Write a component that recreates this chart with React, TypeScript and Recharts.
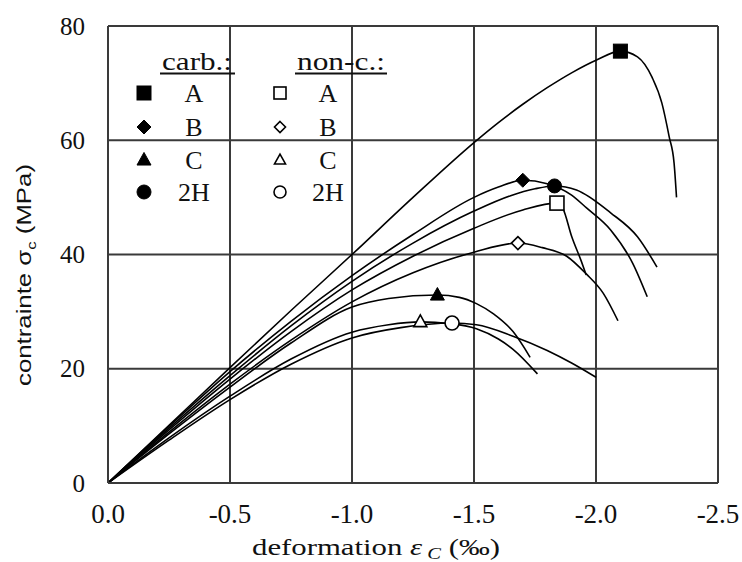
import {
  ComposedChart,
  Line,
  Scatter,
  XAxis,
  YAxis,
  CartesianGrid,
  Customized,
} from "recharts";

type Pt = [number, number];

// strain (‰) is negative in compression, axis runs 0 -> -2.5
const strainTicks = [0, -0.5, -1, -1.5, -2, -2.5];
const stressTicks = [0, 20, 40, 60, 80];

// carbonated specimens
const carbA: Pt[] = [
  [0, 0], [-0.25, 10.1], [-0.5, 20.2], [-0.75, 30.2], [-1.0, 40], [-1.25, 50],
  [-1.5, 59.6], [-1.6, 63.1], [-1.7, 66.3], [-1.8, 69.2], [-1.9, 71.8], [-2.0, 74],
  [-2.1, 75.6], [-2.17, 74.6], [-2.23, 71], [-2.27, 66.5], [-2.3, 60.6], [-2.32, 56],
  [-2.33, 50],
];
const carbB: Pt[] = [
  [0, 0], [-0.25, 9.9], [-0.5, 19.5], [-0.75, 28.3], [-1.0, 36.3], [-1.25, 43.5],
  [-1.5, 50], [-1.6, 51.8], [-1.7, 53], [-1.8, 52.4], [-1.9, 50.4], [-1.96, 48.2],
  [-2.06, 44.3], [-2.15, 38.5], [-2.21, 32.6],
];
const carbC: Pt[] = [
  [0, 0], [-0.25, 8.6], [-0.5, 16.8], [-0.75, 24.5], [-1.0, 30.8], [-1.15, 32.3],
  [-1.35, 32.9], [-1.44, 32.5], [-1.51, 31.4], [-1.58, 29.6], [-1.66, 26.5], [-1.73, 22],
];
const carb2H: Pt[] = [
  [0, 0], [-0.25, 9.6], [-0.5, 18.8], [-0.75, 27.5], [-1.0, 35.3], [-1.25, 42],
  [-1.5, 47.6], [-1.65, 50.3], [-1.75, 51.5], [-1.83, 52], [-1.92, 51.3], [-2.06, 47.3],
  [-2.17, 43.1], [-2.25, 37.8],
];

// non-carbonated specimens
const nonA: Pt[] = [
  [0, 0], [-0.25, 9.3], [-0.5, 18.2], [-0.75, 26.5], [-1.0, 33.8], [-1.25, 39.7],
  [-1.5, 44.6], [-1.7, 47.8], [-1.84, 49], [-1.865, 48], [-1.9, 43.2], [-1.94, 38.8],
  [-1.96, 36.4],
];
const nonB: Pt[] = [
  [0, 0], [-0.25, 8.9], [-0.5, 17.3], [-0.75, 25], [-1.0, 31.7], [-1.25, 36.8],
  [-1.5, 40.4], [-1.68, 42], [-1.78, 41.2], [-1.88, 39.7], [-1.96, 36.6], [-2.03, 33.2],
  [-2.09, 28.4],
];
const nonC: Pt[] = [
  [0, 0], [-0.25, 7.9], [-0.5, 15.2], [-0.75, 21.7], [-1.0, 26.4], [-1.15, 27.7],
  [-1.28, 28.2], [-1.4, 27.9], [-1.51, 27], [-1.6, 25.2], [-1.66, 23.4], [-1.76, 19.1],
];
const non2H: Pt[] = [
  [0, 0], [-0.25, 7.5], [-0.5, 14.6], [-0.75, 20.8], [-1.0, 25.4], [-1.2, 27.2],
  [-1.41, 28], [-1.51, 27.7], [-1.66, 25.7], [-1.8, 23.2], [-1.9, 21], [-2.0, 18.5],
];

type Kind = "square" | "diamond" | "triangle" | "circle";

const series: { id: string; pts: Pt[]; kind: Kind; filled: boolean; size: number }[] = [
  { id: "carbA", pts: carbA, kind: "square", filled: true, size: 14 },
  { id: "carbB", pts: carbB, kind: "diamond", filled: true, size: 14 },
  { id: "carbC", pts: carbC, kind: "triangle", filled: true, size: 14 },
  { id: "carb2H", pts: carb2H, kind: "circle", filled: true, size: 14 },
  { id: "nonA", pts: nonA, kind: "square", filled: false, size: 14 },
  { id: "nonB", pts: nonB, kind: "diamond", filled: false, size: 13 },
  { id: "nonC", pts: nonC, kind: "triangle", filled: false, size: 13 },
  { id: "non2H", pts: non2H, kind: "circle", filled: false, size: 14 },
];

const legendRows = ["A", "B", "C", "2H"];

const toRows = (pts: Pt[]) => pts.map(([x, y]) => ({ x, y }));
const peakOf = (pts: Pt[]) => {
  let best = pts[0];
  for (const p of pts) if (p[1] > best[1]) best = p;
  return [{ x: best[0], y: best[1] }];
};

const SERIF = "Liberation Serif, Times New Roman, serif";
const SANS = "Liberation Sans, Arial, sans-serif";
const INK = "#111";
const GRID = "#3a3a3a";

function Marker({ cx, cy, kind, filled, size }: { cx: number; cy: number; kind: Kind; filled: boolean; size: number }) {
  const s = size / 2;
  const style = {
    fill: filled ? "#000" : "#fff",
    stroke: "#000",
    strokeWidth: filled ? 1 : 1.6,
  };
  if (kind === "square") return <rect x={cx - s} y={cy - s} width={size} height={size} {...style} />;
  if (kind === "diamond")
    return <polygon points={`${cx},${cy - s} ${cx + s},${cy} ${cx},${cy + s} ${cx - s},${cy}`} {...style} />;
  if (kind === "triangle") {
    const h = size * 0.9;
    return (
      <polygon
        points={`${cx},${cy - h * 0.6} ${cx + s},${cy + h * 0.4} ${cx - s},${cy + h * 0.4}`}
        {...style}
      />
    );
  }
  return <circle cx={cx} cy={cy} r={s} {...style} />;
}

const XTick = ({ x, y, payload }: any) => (
  <text x={x} y={y + 40} textAnchor="middle" fontFamily={SERIF} fontSize={27} fill={INK}>
    {Number(payload.value).toFixed(1)}
  </text>
);

const YTick = ({ x, y, payload }: any) => (
  <text x={x - 23} y={y + 8.5} textAnchor="end" fontFamily={SERIF} fontSize={25} fill={INK}>
    {payload.value}
  </text>
);

function Overlay() {
  const rowY = [93, 127, 160, 192];
  const carbSeries = series.filter((s) => s.filled);
  const nonSeries = series.filter((s) => !s.filled);
  return (
    <g>
      {/* legend */}
      <text x={162} y={70} fontFamily={SERIF} fontSize={25} fill={INK} textLength={70} lengthAdjust="spacingAndGlyphs">
        carb.:
      </text>
      <line x1={160} x2={235} y1={73.5} y2={73.5} stroke={INK} strokeWidth={2} />
      <text x={297} y={70} fontFamily={SERIF} fontSize={25} fill={INK} textLength={88} lengthAdjust="spacingAndGlyphs">
        non-c.:
      </text>
      <line x1={295} x2={387} y1={73.5} y2={73.5} stroke={INK} strokeWidth={2} />
      {legendRows.map((label, i) => (
        <g key={label}>
          <Marker cx={144} cy={rowY[i]} kind={carbSeries[i].kind} filled size={carbSeries[i].size} />
          <text x={194} y={rowY[i] + 9} textAnchor="middle" fontFamily={SERIF} fontSize={26} fill={INK}>
            {label}
          </text>
          <Marker cx={280} cy={rowY[i]} kind={nonSeries[i].kind} filled={false} size={nonSeries[i].size - 2} />
          <text x={328} y={rowY[i] + 9} textAnchor="middle" fontFamily={SERIF} fontSize={26} fill={INK}>
            {label}
          </text>
        </g>
      ))}
      {/* axis titles */}
      <text
        transform="translate(31, 275) rotate(-90)"
        textAnchor="middle"
        fontFamily={SANS}
        fontSize={20}
        fill={INK}
        textLength={222}
        lengthAdjust="spacingAndGlyphs"
      >
        contrainte σ<tspan fontSize={13} dy={5}>c</tspan>
        <tspan dy={-5}> (MPa)</tspan>
      </text>
      <text
        x={376}
        y={555}
        textAnchor="middle"
        fontFamily={SERIF}
        fontSize={24}
        fill={INK}
        textLength={248}
        lengthAdjust="spacingAndGlyphs"
      >
        deformation <tspan fontStyle="italic">ε</tspan>
        <tspan fontStyle="italic" fontSize={16} dy={4}> C</tspan>
        <tspan dy={-4}> (‰)</tspan>
      </text>
    </g>
  );
}

export default function App() {
  return (
    <div style={{ position: "absolute", left: 0, top: 0, background: "#fff" }}>
      <ComposedChart width={742} height={562} margin={{ top: 26, right: 24, bottom: 0, left: 0 }}>
        <CartesianGrid stroke={GRID} strokeWidth={2} />
        <XAxis
          type="number"
          dataKey="x"
          domain={[-2.5, 0]}
          reversed
          ticks={strainTicks}
          tick={<XTick />}
          tickLine={false}
          tickSize={0}
          tickMargin={0}
          axisLine={{ stroke: GRID, strokeWidth: 2 }}
          height={79}
          allowDataOverflow
        />
        <YAxis
          type="number"
          dataKey="y"
          domain={[0, 80]}
          ticks={stressTicks}
          tick={<YTick />}
          tickLine={false}
          tickSize={0}
          tickMargin={0}
          axisLine={{ stroke: GRID, strokeWidth: 2 }}
          width={108}
          allowDataOverflow
        />
        {series.map((s) => (
          <Line
            key={s.id}
            data={toRows(s.pts)}
            dataKey="y"
            type="monotone"
            stroke="#000"
            strokeWidth={1.6}
            dot={false}
            activeDot={false}
            isAnimationActive={false}
          />
        ))}
        {series.map((s) => (
          <Scatter
            key={s.id + "-peak"}
            data={peakOf(s.pts)}
            dataKey="y"
            isAnimationActive={false}
            shape={(p: any) => <Marker cx={p.cx} cy={p.cy} kind={s.kind} filled={s.filled} size={s.size} />}
          />
        ))}
        <Customized component={Overlay} />
      </ComposedChart>
    </div>
  );
}
